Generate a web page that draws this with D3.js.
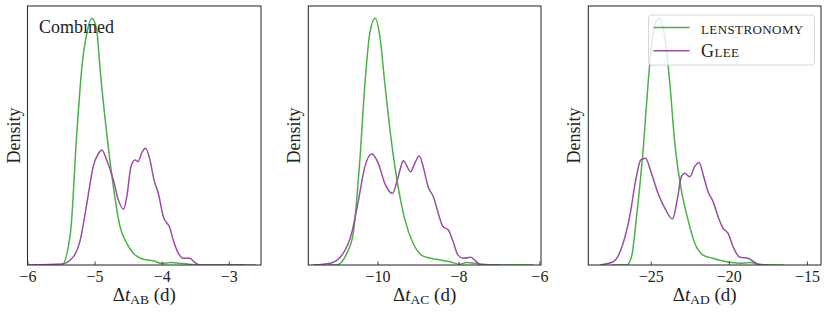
<!DOCTYPE html>
<html>
<head>
<meta charset="utf-8">
<script src="https://d3js.org/d3.v7.min.js"></script>
<style>
  body { margin: 0; background: #fff; }
  svg text { font-family: "Liberation Serif", "DejaVu Serif", serif; fill: #222; }
</style>
</head>
<body>
<svg id="chart" width="830" height="313"></svg>
<script>
//data (density normalised so the lenstronomy peak = 1)
var panelNames = ["AB", "AC", "AD"];
var xDomains = [[-6.0, -2.52], [-11.71, -5.96], [-29.0, -14.1]];
var xTicks = [[-6, -5, -4, -3], [-10, -8, -6], [-25, -20, -15]];

var abLenX = [-6.0, -5.49, -5.36, -5.265, -5.19, -5.107, -5.04, -4.967, -4.92, -4.82, -4.72, -4.62, -4.52, -4.42, -4.27, -4.125, -4.0, -3.87, -3.68, -3.44, -2.6];
var abLenY = [0, 0, 0.13, 0.535, 0.80, 0.95, 1.0, 0.95, 0.80, 0.535, 0.317, 0.155, 0.088, 0.047, 0.023, 0.017, 0.006, 0.01, 0.006, 0, 0];
var abGleeX = [-5.95, -5.49, -5.315, -5.215, -5.107, -5.02, -4.94, -4.893, -4.82, -4.72, -4.645, -4.567, -4.52, -4.457, -4.397, -4.35, -4.30, -4.24, -4.175, -4.115, -4.05, -3.976, -3.876, -3.827, -3.75, -3.68, -3.58, -3.505, -3.43, -2.76];
var abGleeY = [0, 0.004, 0.034, 0.10, 0.263, 0.40, 0.453, 0.466, 0.426, 0.345, 0.263, 0.226, 0.277, 0.40, 0.426, 0.419, 0.453, 0.473, 0.426, 0.345, 0.29, 0.196, 0.149, 0.10, 0.047, 0.027, 0.027, 0.01, 0, 0];

var acLenX = [-11.2, -11.01, -10.76, -10.60, -10.43, -10.31, -10.19, -10.06, -9.94, -9.82, -9.65, -9.49, -9.32, -9.12, -8.87, -8.54, -8.21, -7.965, -7.80, -7.47, -7.06, -6.15];
var acLenY = [0, 0, 0.047, 0.128, 0.44, 0.737, 0.94, 1.0, 0.925, 0.737, 0.493, 0.317, 0.182, 0.088, 0.036, 0.023, 0.013, 0.003, 0.01, 0.004, 0, 0];
var acGleeX = [-11.59, -11.17, -10.85, -10.64, -10.47, -10.31, -10.14, -9.98, -9.82, -9.63, -9.51, -9.38, -9.365, -9.18, -9.08, -8.97, -8.85, -8.75, -8.62, -8.50, -8.38, -8.25, -8.13, -8.01, -7.88, -7.70, -7.55, -7.43, -7.0];
var acGleeY = [0, 0.007, 0.047, 0.128, 0.263, 0.40, 0.45, 0.412, 0.331, 0.29, 0.345, 0.419, 0.423, 0.378, 0.412, 0.442, 0.385, 0.317, 0.277, 0.21, 0.155, 0.142, 0.094, 0.04, 0.027, 0.031, 0.013, 0, 0];

var adLenX = [-27.5, -26.55, -26.23, -25.91, -25.49, -25.17, -24.85, -24.47, -24.10, -23.78, -23.46, -23.04, -22.61, -22.18, -21.65, -21.01, -20.16, -19.3, -18.66, -18.02, -17.2, -16.5];
var adLenY = [0, 0, 0.034, 0.196, 0.466, 0.737, 0.94, 1.0, 0.925, 0.737, 0.493, 0.304, 0.182, 0.088, 0.04, 0.027, 0.013, 0.007, 0.01, 0.003, 0, 0];
var adGleeX = [-28.26, -27.41, -26.77, -26.34, -25.96, -25.64, -25.34, -24.96, -24.53, -24.04, -23.61, -23.31, -23.04, -22.83, -22.51, -22.18, -21.91, -21.61, -21.33, -21.01, -20.69, -20.37, -20.05, -19.73, -19.3, -18.77, -18.34, -18.0, -17.5];
var adGleeY = [0, 0.013, 0.088, 0.20, 0.345, 0.426, 0.433, 0.372, 0.29, 0.223, 0.186, 0.263, 0.358, 0.372, 0.358, 0.40, 0.416, 0.358, 0.297, 0.257, 0.196, 0.149, 0.128, 0.074, 0.031, 0.027, 0.01, 0, 0];

var seriesNames = ["lenstronomy", "Glee"];
var seriesColors = ["#4daf4a", "#984ea3"];

//layout
var panelLeft = [27.5, 308.3, 588.3], panelRight = [261, 541, 821];
var plotTop = 6, plotBottom = 265;
var lines = [
  [[abLenX, abLenY], [abGleeX, abGleeY]],
  [[acLenX, acLenY], [acGleeX, acGleeY]],
  [[adLenX, adLenY], [adGleeX, adGleeY]]
];

var svg = d3.select("#chart");

for (let p = 0; p < 3; p++) {
  var x = d3.scaleLinear().domain(xDomains[p]).range([panelLeft[p], panelRight[p]]);
  var y = d3.scaleLinear().domain([0, 1.05]).range([plotBottom, plotTop]);

  var g = svg.append("g");
  var clipId = "clip" + p;
  g.append("clipPath").attr("id", clipId).append("rect")
    .attr("x", panelLeft[p]).attr("y", plotTop)
    .attr("width", panelRight[p] - panelLeft[p]).attr("height", plotBottom - plotTop);

  //curves
  var line = d3.line()
    .x(function(d){ return x(d[0]); })
    .y(function(d){ return y(d[1]); })
    .curve(d3.curveMonotoneX);

  lines[p].forEach(function(s, i){
    var pts = s[0].map(function(v, k){ return [v, s[1][k]]; });
    g.append("path")
      .attr("d", line(pts))
      .attr("fill", "none")
      .attr("stroke", seriesColors[i])
      .attr("stroke-width", 1.5)
      .attr("clip-path", "url(#" + clipId + ")");
  });

  //x axis, ticks pointing in
  var axis = d3.axisBottom(x)
    .tickValues(xTicks[p])
    .tickSizeInner(-3.5).tickSizeOuter(0)
    .tickPadding(6)
    .tickFormat(function(d){ return d < 0 ? "\u2212" + Math.abs(d) : d; });
  var ax = g.append("g").attr("transform", "translate(0," + plotBottom + ")").call(axis);
  ax.select(".domain").remove();
  ax.selectAll("line").attr("stroke", "#333").attr("stroke-width", 0.9);
  ax.selectAll("text").attr("font-size", 16).attr("fill", "#333")
    .attr("font-family", "Liberation Serif, serif");

  //frame
  g.append("rect")
    .attr("x", panelLeft[p]).attr("y", plotTop)
    .attr("width", panelRight[p] - panelLeft[p]).attr("height", plotBottom - plotTop)
    .attr("fill", "none").attr("stroke", "#333").attr("stroke-width", 1.1);

  //labels
  var cx = (panelLeft[p] + panelRight[p]) / 2;
  var xl = g.append("text")
    .attr("x", cx).attr("y", 301)
    .attr("text-anchor", "middle")
    .attr("font-size", 19);
  xl.append("tspan").text("\u0394");
  xl.append("tspan").attr("font-style", "italic").text("t");
  xl.append("tspan").attr("font-size", 13.5).attr("dy", 3).text(panelNames[p]);
  xl.append("tspan").attr("dy", -3).text(" (d)");

  g.append("text")
    .attr("transform", "translate(" + (panelLeft[p] - 8) + "," + ((plotTop + plotBottom) / 2) + ") rotate(-90)")
    .attr("text-anchor", "middle")
    .attr("font-size", 18)
    .text("Density");
}

//panel title
svg.append("text")
  .attr("x", 39).attr("y", 33)
  .attr("font-size", 18)
  .text("Combined");

//legend
var leg = svg.append("g");
leg.append("rect")
  .attr("x", 648.5).attr("y", 15).attr("width", 166).attr("height", 50)
  .attr("rx", 3).attr("fill", "#fff").attr("fill-opacity", 0.8)
  .attr("stroke", "#d6d6d6").attr("stroke-width", 1);
seriesNames.forEach(function(name, i){
  var ly = 27.5 + i * 23.3;
  leg.append("line")
    .attr("x1", 653.5).attr("x2", 689.5).attr("y1", ly).attr("y2", ly)
    .attr("stroke", seriesColors[i]).attr("stroke-width", 1.5);
  leg.append("text")
    .attr("x", 701).attr("y", ly + 6)
    .attr("font-size", 18)
    .style("font-variant", "small-caps")
    .style("letter-spacing", "0.4px")
    .text(name);
});
</script>
</body>
</html>
